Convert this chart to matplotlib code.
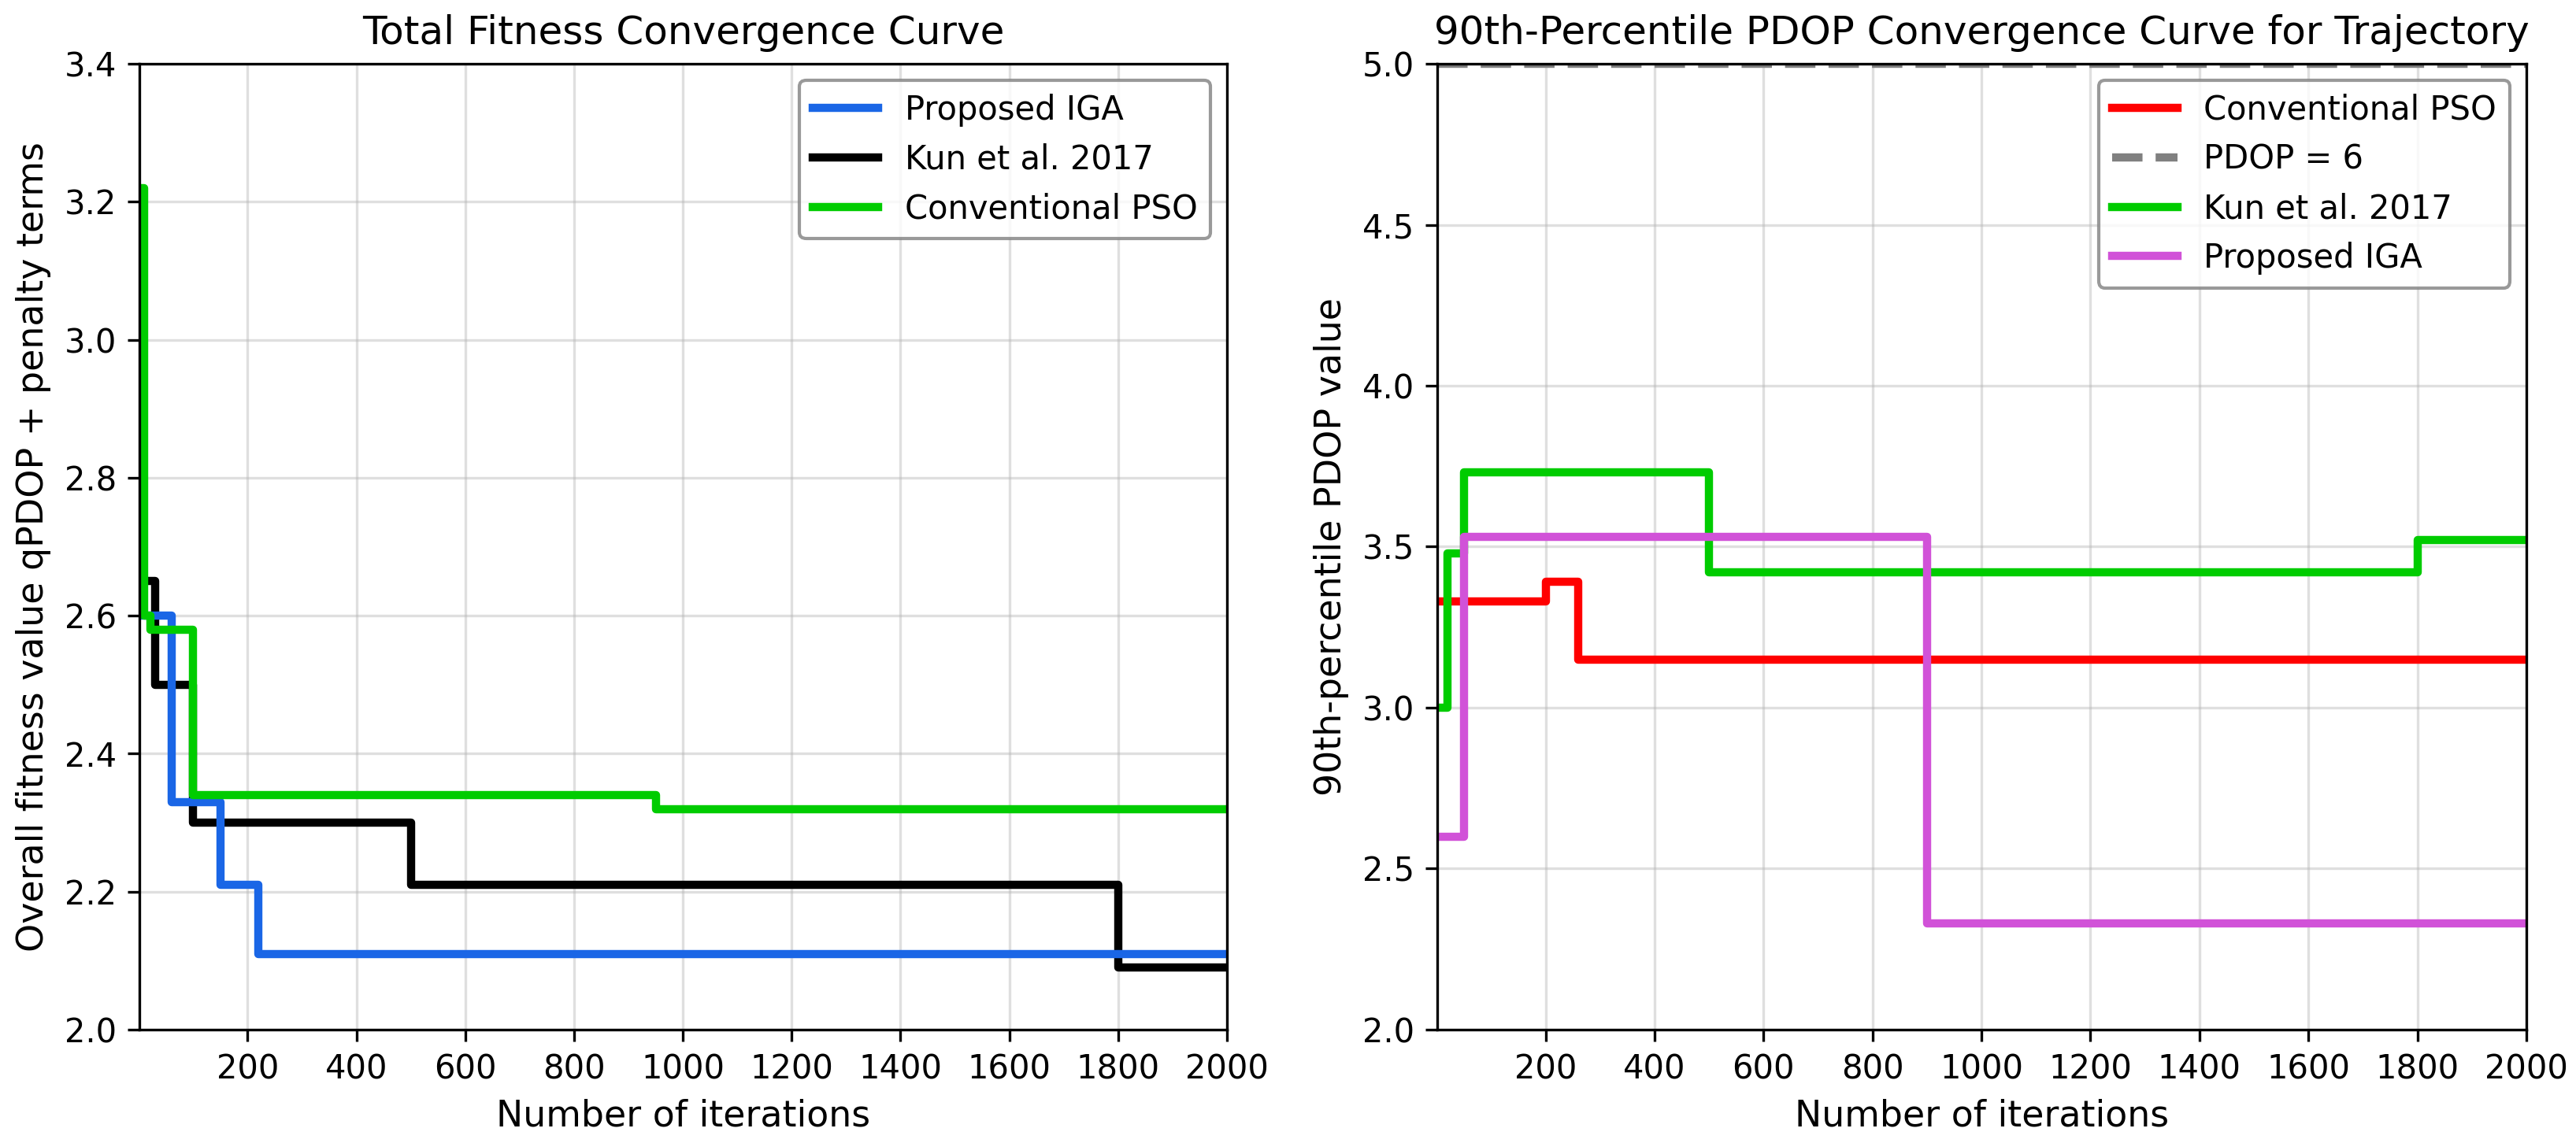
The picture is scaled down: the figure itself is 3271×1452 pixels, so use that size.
import numpy as np
import matplotlib
matplotlib.use("Agg")
import matplotlib.pyplot as plt

# left panel: total fitness (step change points)
iga_x = [1, 60, 150, 220, 2000]
iga_y = [2.60, 2.33, 2.21, 2.11, 2.11]
kun_x = [1, 30, 100, 500, 1800, 2000]
kun_y = [2.65, 2.50, 2.30, 2.21, 2.09, 2.09]
pso_x = [1, 10, 22, 100, 950, 2000]
pso_y = [3.22, 2.60, 2.58, 2.34, 2.32, 2.32]

# right panel: 90th-percentile PDOP
pso_p_x = [1, 200, 260, 2000]
pso_p_y = [3.33, 3.39, 3.15, 3.15]
kun_p_x = [1, 20, 50, 500, 1800, 2000]
kun_p_y = [3.00, 3.48, 3.73, 3.42, 3.52, 3.52]
iga_p_x = [1, 50, 900, 2000]
iga_p_y = [2.60, 3.53, 2.33, 2.33]
pdop_limit = 5.0

xticks = list(range(200, 2001, 200))
lw = 2.5

fig = plt.figure(figsize=(3271 / 300, 1452 / 300), dpi=300)
ax1 = fig.add_axes([0.0541, 0.0992, 0.4222, 0.8450])
ax2 = fig.add_axes([0.5579, 0.0992, 0.4228, 0.8450])

l_kun, = ax1.plot(kun_x, kun_y, drawstyle="steps-post", color="black", lw=lw, label="Kun et al. 2017")
l_iga, = ax1.plot(iga_x, iga_y, drawstyle="steps-post", color="#1a66e6", lw=lw, label="Proposed IGA")
l_pso, = ax1.plot(pso_x, pso_y, drawstyle="steps-post", color="#00cc00", lw=lw, label="Conventional PSO")
ax1.set_xlim(1, 2000)
ax1.set_ylim(2.0, 3.4)
ax1.set_xticks(xticks)
ax1.set_yticks(np.arange(2.0, 3.41, 0.2))
ax1.grid(True, alpha=0.4)
ax1.set_title("Total Fitness Convergence Curve", fontsize=12)
ax1.set_xlabel("Number of iterations", fontsize=11)
ax1.set_ylabel("Overall fitness value qPDOP + penalty terms", fontsize=11)
ax1.legend(handles=[l_iga, l_kun, l_pso], loc="upper right", edgecolor="gray")

ax2.plot(pso_p_x, pso_p_y, drawstyle="steps-post", color="red", lw=lw, label="Conventional PSO")
ax2.axhline(pdop_limit, color="gray", ls="--", lw=lw, label="PDOP = 6")
ax2.plot(kun_p_x, kun_p_y, drawstyle="steps-post", color="#00cc00", lw=lw, label="Kun et al. 2017")
ax2.plot(iga_p_x, iga_p_y, drawstyle="steps-post", color="#d152d8", lw=lw, label="Proposed IGA")
ax2.set_xlim(1, 2000)
ax2.set_ylim(2.0, 5.0)
ax2.set_xticks(xticks)
ax2.set_yticks(np.arange(2.0, 5.01, 0.5))
ax2.grid(True, alpha=0.4)
ax2.set_title("90th-Percentile PDOP Convergence Curve for Trajectory", fontsize=12)
ax2.set_xlabel("Number of iterations", fontsize=11)
ax2.set_ylabel("90th-percentile PDOP value", fontsize=11)
ax2.legend(loc="upper right", edgecolor="gray")

fig.savefig("out.png", dpi=300)
